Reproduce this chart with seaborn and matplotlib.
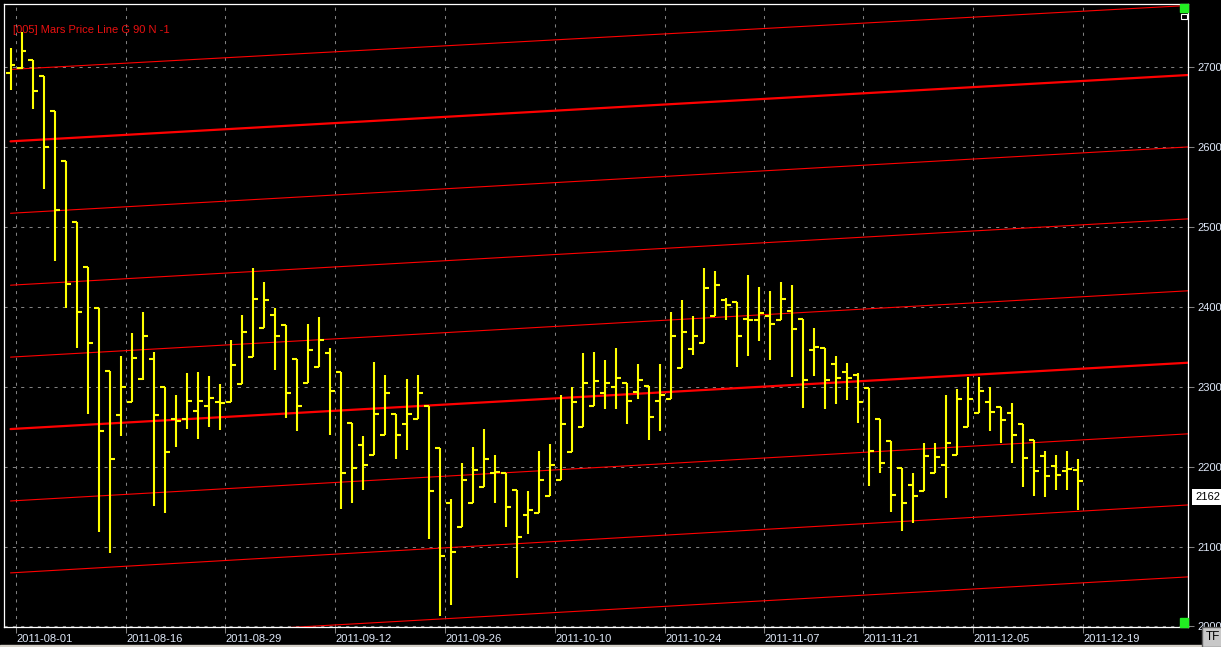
import numpy as np
import pandas as pd
import matplotlib
matplotlib.use("Agg")
import matplotlib.pyplot as plt
import matplotlib.patches as patches
import matplotlib.transforms as mtransforms
import seaborn as sns

# ── Données OHLC ───────────────────────────────────────────
opens = [2693, 2699, 2709, 2689, 2645, 2583, 2506, 2450, 2399, 2320,
         2264, 2281, 2310, 2335, 2300, 2260, 2259, 2269, 2276, 2281,
         2281, 2303, 2337, 2373, 2390, 2377, 2335, 2304, 2325, 2342,
         2318, 2254, 2227, 2214, 2239, 2266, 2253, 2259, 2276, 2223,
         2155, 2124, 2154, 2174, 2192, 2192, 2171, 2140, 2142, 2163,
         2183, 2218, 2249, 2276, 2292, 2299, 2305, 2293, 2301, 2282,
         2285, 2324, 2347, 2355, 2389, 2408, 2406, 2385, 2384, 2388,
         2383, 2395, 2385, 2346, 2349, 2328, 2319, 2315, 2298, 2259,
         2232, 2198, 2177, 2169, 2192, 2202, 2215, 2250, 2267, 2281,
         2275, 2267, 2253, 2233, 2213, 2201, 2194, 2196]
highs = [2724, 2744, 2709, 2689, 2645, 2583, 2506, 2450, 2399, 2320,
         2339, 2367, 2394, 2344, 2300, 2290, 2317, 2318, 2314, 2303,
         2359, 2390, 2449, 2431, 2398, 2377, 2335, 2378, 2387, 2349,
         2318, 2254, 2238, 2331, 2315, 2266, 2310, 2315, 2276, 2223,
         2160, 2205, 2224, 2247, 2215, 2192, 2171, 2169, 2220, 2228,
         2289, 2299, 2342, 2344, 2334, 2349, 2305, 2328, 2301, 2329,
         2393, 2409, 2389, 2448, 2445, 2411, 2406, 2440, 2425, 2420,
         2431, 2427, 2385, 2374, 2349, 2339, 2330, 2317, 2298, 2259,
         2232, 2198, 2192, 2230, 2230, 2290, 2297, 2312, 2312, 2300,
         2275, 2280, 2253, 2233, 2220, 2215, 2220, 2209]
lows = [2671, 2697, 2647, 2547, 2457, 2399, 2348, 2266, 2118, 2092,
        2238, 2281, 2309, 2151, 2142, 2224, 2247, 2235, 2249, 2246,
        2281, 2303, 2337, 2373, 2321, 2261, 2245, 2304, 2325, 2240,
        2147, 2155, 2171, 2214, 2239, 2210, 2221, 2259, 2110, 2013,
        2027, 2124, 2154, 2174, 2155, 2125, 2061, 2116, 2142, 2163,
        2183, 2218, 2249, 2276, 2272, 2272, 2253, 2284, 2233, 2244,
        2285, 2324, 2340, 2355, 2389, 2384, 2325, 2339, 2357, 2334,
        2383, 2312, 2273, 2314, 2272, 2278, 2283, 2255, 2176, 2192,
        2143, 2120, 2129, 2169, 2192, 2161, 2215, 2250, 2267, 2244,
        2230, 2205, 2174, 2163, 2162, 2171, 2171, 2146]
closes = [2702, 2720, 2670, 2600, 2521, 2428, 2393, 2355, 2244, 2209,
          2300, 2336, 2363, 2264, 2218, 2257, 2282, 2282, 2286, 2280,
          2327, 2369, 2410, 2408, 2363, 2292, 2276, 2346, 2358, 2294,
          2192, 2198, 2202, 2266, 2292, 2240, 2266, 2292, 2169, 2088,
          2093, 2183, 2196, 2209, 2193, 2149, 2112, 2146, 2183, 2202,
          2253, 2281, 2304, 2307, 2304, 2311, 2282, 2309, 2262, 2289,
          2364, 2369, 2363, 2424, 2427, 2402, 2364, 2384, 2392, 2378,
          2410, 2372, 2308, 2350, 2309, 2311, 2311, 2281, 2220, 2204,
          2165, 2154, 2163, 2213, 2212, 2229, 2285, 2284, 2294, 2268,
          2258, 2240, 2211, 2194, 2188, 2189, 2197, 2182]

# axe des dates (index de séance)
date_ticks = [0.5, 10.5, 19.5, 29.5, 39.5, 49.5, 59.5, 68.5, 77.5, 87.5, 97.5]
date_labels = ["2011-08-01", "2011-08-16", "2011-08-29", "2011-09-12",
               "2011-09-26", "2011-10-10", "2011-10-24", "2011-11-07",
               "2011-11-21", "2011-12-05", "2011-12-19"]
price_ticks = [2000, 2100, 2200, 2300, 2400, 2500, 2600, 2700]

# lignes de prix Mars (prix au début et à la fin)
line_bar_start, line_bar_end = 0, 107
line_starts = [2697, 2607, 2517, 2427, 2337, 2247, 2157, 2067, 1979]
line_ends = [2777, 2690, 2600, 2510, 2420, 2330, 2241, 2152, 2062]

last_price = 2162
titre = "[005] Mars Price Line G 90 N -1"

# ── Style ──────────────────────────────────────────────────
sns.set_theme(style="dark")
plt.rcParams["font.family"] = ["Liberation Sans", "DejaVu Sans"]
THICK = [1, 5]
YELLOW = "#ffff00"
RED = "#ff0000"
GRID = "#808080"
TXT = "#dfe8f8"

fig = plt.figure(figsize=(12.21, 6.47), dpi=100, facecolor="black")
ax = fig.add_axes([3.5 / 1221, 20 / 647, 1184.5 / 1221, 623.5 / 647])
ax.set_facecolor("black")

# ── Lignes rouges ──────────────────────────────────────────
rows = []
for k, (s, e) in enumerate(zip(line_starts, line_ends)):
    rows.append({"bar": line_bar_start, "price": s, "ligne": k})
    rows.append({"bar": line_bar_end, "price": e, "ligne": k})
df_lines = pd.DataFrame(rows)

sns.lineplot(data=df_lines[~df_lines["ligne"].isin(THICK)], x="bar", y="price",
             units="ligne", estimator=None, color=RED, lw=0.8, ax=ax, legend=False)
sns.lineplot(data=df_lines[df_lines["ligne"].isin(THICK)], x="bar", y="price",
             units="ligne", estimator=None, color=RED, lw=1.6, ax=ax, legend=False)

# ── Barres OHLC ────────────────────────────────────────────
x = np.arange(len(opens))
ax.vlines(x, lows, highs, colors=YELLOW, lw=1.5, zorder=3)
ax.hlines(opens, x - 0.42, x, colors=YELLOW, lw=1.5, zorder=3)
ax.hlines(closes, x, x + 0.45, colors=YELLOW, lw=1.5, zorder=3)

# ── Axes ───────────────────────────────────────────────────
ax.set_xlim(-0.64, 107.0)
ax.set_ylim(1999.3, 2779.5)
ax.set_xlabel("")
ax.set_ylabel("")

ax.set_xticks(date_ticks)
ax.set_xticklabels(date_labels)
for lab in ax.get_xticklabels():
    lab.set_ha("left")
ax.set_yticks(price_ticks)
ax.set_yticklabels([str(p) for p in price_ticks])
ax.yaxis.tick_right()

ax.tick_params(axis="x", colors=GRID, labelcolor=TXT, labelsize=8, length=4,
               width=0.75, pad=1, bottom=True)
ax.tick_params(axis="y", colors=GRID, labelcolor=TXT, labelsize=8, length=4,
               width=0.75, pad=3, right=True, left=False)

ax.grid(True, color=GRID, ls=(0, (3, 5)), lw=0.75)
ax.set_axisbelow(True)
for sp in ax.spines.values():
    sp.set_visible(True)
    sp.set_color("white")
    sp.set_linewidth(0.9)

# titre de l'indicateur
ax.text(0.008, 0.957, titre, transform=ax.transAxes, color="#e81010",
        fontsize=8, ha="left", va="center")

# étiquette du dernier prix
trans = mtransforms.blended_transform_factory(ax.transAxes, ax.transData)
ax.text(1.0 + 7 / 1184.5, last_price, str(last_price), transform=trans,
        ha="left", va="center", fontsize=8, color="black", clip_on=False,
        bbox=dict(boxstyle="square,pad=0.3", facecolor="white", edgecolor="none"))

# petits carrés verts dans les coins + icône
W, H = 1184.5, 623.5
ax.add_patch(patches.Rectangle((1 - 8 / W, 1 - 8 / H), 8 / W, 8 / H,
                               transform=ax.transAxes, color="#22ee22", zorder=5, clip_on=False))
ax.add_patch(patches.Rectangle((1 - 7 / W, 1 - 15 / H), 6 / W, 5 / H,
                               transform=ax.transAxes, facecolor="black",
                               edgecolor="white", lw=0.8, zorder=5, clip_on=False))
ax.add_patch(patches.Rectangle((1 - 8 / W, 0), 8 / W, 9 / H,
                               transform=ax.transAxes, color="#22ee22", zorder=5, clip_on=False))

# bouton TF
fig.text(1213 / 1221, 10 / 647, "TF", fontsize=8.5, color="black",
         ha="center", va="center",
         bbox=dict(boxstyle="square,pad=0.3", facecolor="#c8c8c8", edgecolor="#606060"))
fig.patches.append(patches.Rectangle((0, 0), 1, 2 / 647, transform=fig.transFigure,
                                     color="#d4d0c8", zorder=0))

fig.savefig("out.png", dpi=100, facecolor="black")
plt.close()
